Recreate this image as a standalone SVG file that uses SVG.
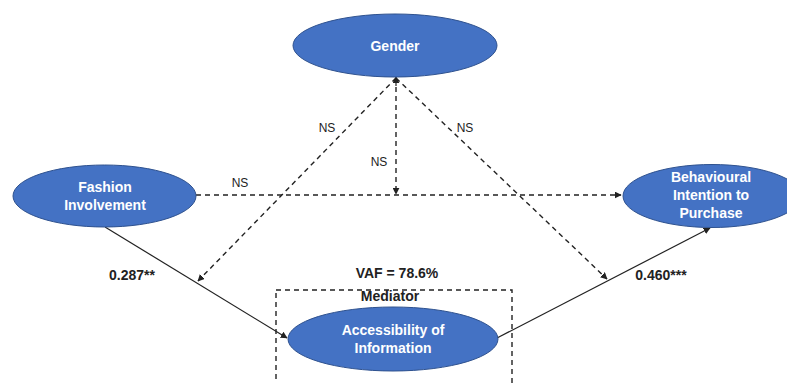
<svg xmlns="http://www.w3.org/2000/svg" width="787" height="383" viewBox="0 0 787 383">
<style>
.node{fill:#4472C4;stroke:#2F528F;stroke-width:1}
.nt{font-family:"Liberation Sans",Arial,sans-serif;font-weight:bold;font-size:14px;fill:#ffffff;text-anchor:middle}
.lbl{font-family:"Liberation Sans",Arial,sans-serif;font-size:12px;fill:#222;text-anchor:middle}
.blbl{font-family:"Liberation Sans",Arial,sans-serif;font-weight:bold;font-size:14px;fill:#222;text-anchor:middle}
.dash{fill:none;stroke:#222;stroke-width:1.4;stroke-dasharray:5,4}
.solid{fill:none;stroke:#222;stroke-width:1.2}
</style>
<defs>
<marker id="ah" viewBox="0 0 10 10" refX="9" refY="5" markerWidth="7" markerHeight="7" markerUnits="userSpaceOnUse" orient="auto">
<path d="M0,0 L10,5 L0,10 z" fill="#222"/>
</marker>
</defs>
<rect x="0" y="0" width="787" height="383" fill="#ffffff"/>
<g id="mediator-box">
<rect x="276" y="290" width="236" height="110" class="dash"/>
<text class="blbl" x="397" y="278">VAF = 78.6%</text>
<text class="blbl" x="390" y="301">Mediator</text>
</g>
<g id="connectors">
<line class="dash" x1="196" y1="195" x2="621" y2="195" marker-end="url(#ah)"/>
<line class="dash" x1="396" y1="78" x2="396" y2="194" marker-end="url(#ah)"/>
<line class="dash" x1="396" y1="78" x2="198" y2="281" marker-end="url(#ah)"/>
<line class="dash" x1="396" y1="78" x2="607" y2="279" marker-end="url(#ah)"/>
<path d="M396,86 L396,77" class="solid" marker-end="url(#ah)"/>
<line class="solid" x1="105" y1="227" x2="287" y2="338" marker-end="url(#ah)"/>
<line class="solid" x1="497" y1="338" x2="710" y2="228" marker-end="url(#ah)"/>
<text class="lbl" x="327" y="132">NS</text>
<text class="lbl" x="465" y="132">NS</text>
<text class="lbl" x="379" y="166">NS</text>
<text class="lbl" x="240" y="187">NS</text>
<text class="blbl" x="132" y="280">0.287**</text>
<text class="blbl" x="661" y="280">0.460***</text>
</g>
<g id="gender">
<ellipse class="node" cx="395" cy="45.5" rx="102" ry="31.5"/>
<text class="nt" x="395" y="51">Gender</text>
</g>
<g id="fashion">
<ellipse class="node" cx="104.5" cy="196" rx="91.5" ry="31"/>
<text class="nt" x="105" y="192">Fashion</text>
<text class="nt" x="105" y="210">Involvement</text>
</g>
<g id="behavioural">
<ellipse class="node" cx="712" cy="196" rx="89" ry="31.5"/>
<text class="nt" x="711" y="182">Behavioural</text>
<text class="nt" x="711" y="200">Intention to</text>
<text class="nt" x="711" y="218">Purchase</text>
</g>
<g id="accessibility">
<ellipse class="node" cx="393" cy="339" rx="105" ry="32"/>
<text class="nt" x="393" y="335">Accessibility of</text>
<text class="nt" x="393" y="353">Information</text>
</g>
</svg>
